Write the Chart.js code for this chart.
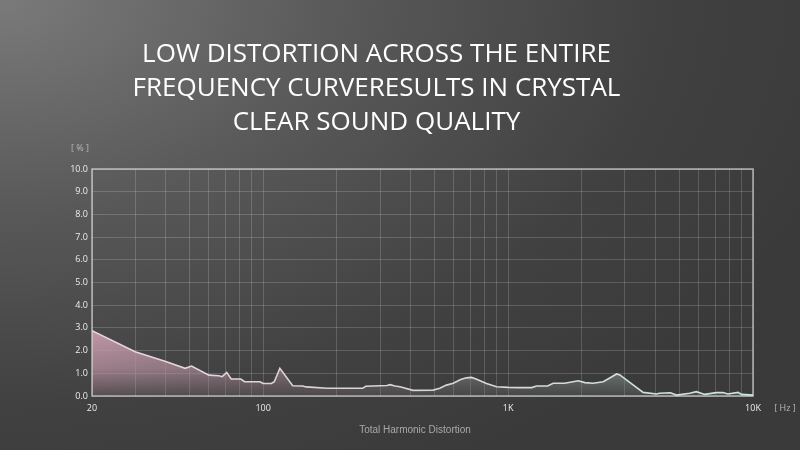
<!DOCTYPE html>
<html>
<head>
<meta charset="utf-8">
<script src="https://cdn.jsdelivr.net/npm/chart.js@4.4.0/dist/chart.umd.min.js"></script>
<style>
  html, body { margin: 0; padding: 0; }
  body {
    width: 800px; height: 450px; overflow: hidden;
    background: radial-gradient(ellipse 110% 120% at 0% 0%, #7a7a7a 0%, #585858 40%, #414141 75%, #3a3a3a 100%);
  }
  #wrap { position: relative; width: 800px; height: 450px; }
</style>
</head>
<body>
<div id="wrap"><canvas id="thdChart" width="800" height="450"></canvas></div>
<script>
// frequency points (Hz) and THD values (%)
var freqs = [20, 30, 40, 48, 51, 60, 66, 68, 71, 74, 81, 84, 97, 100, 108, 111, 117, 132, 145, 150,
  182, 255, 262, 320, 330, 345, 362, 409, 494, 526, 560, 597, 640, 676, 709, 740, 816, 897, 1000,
  1117, 1250, 1306, 1450, 1528, 1700, 1841, 1933, 2059, 2226, 2446, 2775, 2860, 3560, 4040, 4150,
  4600, 4870, 5520, 5870, 6350, 7090, 7540, 7900, 8690, 8970, 10000];
var thd = [2.88, 1.95, 1.52, 1.22, 1.32, 0.92, 0.89, 0.85, 1.04, 0.75, 0.75, 0.63, 0.63, 0.55, 0.55, 0.63, 1.22, 0.45, 0.44, 0.40,
  0.34, 0.34, 0.43, 0.46, 0.50, 0.44, 0.41, 0.25, 0.26, 0.34, 0.48, 0.56, 0.73, 0.80, 0.82, 0.75, 0.55, 0.41, 0.38,
  0.37, 0.37, 0.44, 0.44, 0.56, 0.56, 0.63, 0.67, 0.59, 0.56, 0.63, 0.97, 0.93, 0.16, 0.09, 0.12,
  0.14, 0.04, 0.12, 0.19, 0.07, 0.15, 0.15, 0.09, 0.16, 0.07, 0.04];

// grid lines on the log axis, and which of them get a label
var gridFreqs = [20, 30, 40, 50, 60, 70, 80, 90, 100, 200, 300, 400, 500, 600, 700, 800, 900,
  1000, 2000, 3000, 4000, 5000, 6000, 7000, 8000, 9000, 10000];
var freqLabels = { 20: '20', 100: '100', 1000: '1K', 10000: '10K' };
var titleLines = ['LOW DISTORTION ACROSS THE ENTIRE', 'FREQUENCY CURVERESULTS IN CRYSTAL', 'CLEAR SOUND QUALITY'];

var points = freqs.map(function(f, i) { return { x: f, y: thd[i] }; });

var fillCache = null;
function makeFill(chart) {
  var area = chart.chartArea;
  if (!area) return 'rgba(180,140,155,0.5)';
  var key = area.left + ',' + area.top + ',' + area.right + ',' + area.bottom;
  if (fillCache && fillCache.key === key) return fillCache.pattern;
  var off = document.createElement('canvas');
  off.width = chart.canvas.width;
  off.height = chart.canvas.height;
  var oc = off.getContext('2d');
  var sx = off.width / chart.width;
  oc.scale(sx, sx);
  // horizontal colour shift: pink on the left to grey-green on the right
  var h = oc.createLinearGradient(area.left, 0, area.right, 0);
  h.addColorStop(0, 'rgb(196,152,170)');
  h.addColorStop(0.3, 'rgb(152,128,140)');
  h.addColorStop(0.6, 'rgb(128,128,128)');
  h.addColorStop(1, 'rgb(145,170,160)');
  oc.fillStyle = h;
  oc.fillRect(area.left, area.top, area.right - area.left, area.bottom - area.top);
  // vertical fade towards the bottom
  var yScale = chart.scales.y;
  oc.globalCompositeOperation = 'destination-in';
  var v = oc.createLinearGradient(0, yScale.getPixelForValue(3), 0, area.bottom);
  v.addColorStop(0, 'rgba(0,0,0,1)');
  v.addColorStop(0.6, 'rgba(0,0,0,0.68)');
  v.addColorStop(1, 'rgba(0,0,0,0.15)');
  oc.fillStyle = v;
  oc.fillRect(0, 0, chart.width, chart.height);
  var pattern = chart.ctx.createPattern(off, 'no-repeat');
  pattern.setTransform(new DOMMatrix([1 / sx, 0, 0, 1 / sx, 0, 0]));
  fillCache = { key: key, pattern: pattern };
  return pattern;
}

function makeLine(chart) {
  var area = chart.chartArea;
  if (!area) return '#e0d0d6';
  var g = chart.ctx.createLinearGradient(area.left, 0, area.right, 0);
  g.addColorStop(0, '#ecd3dc');
  g.addColorStop(0.5, '#d8d4d6');
  g.addColorStop(1, '#cfe6dc');
  return g;
}

var extraText = {
  id: 'extraText',
  afterDraw: function(chart) {
    var ctx = chart.ctx, a = chart.chartArea;
    ctx.save();
    ctx.strokeStyle = 'rgba(225,225,225,0.7)';
    ctx.lineWidth = 1.5;
    ctx.strokeRect(a.left, a.top, a.right - a.left, a.bottom - a.top);
    ctx.fillStyle = '#b8b8b8';
    ctx.font = '9px "Open Sans"';
    ctx.textAlign = 'center';
    ctx.textBaseline = 'middle';
    ctx.fillText('[ % ]', 80, 148);
    ctx.fillText('[ Hz ]', 785, 408);
    ctx.fillStyle = '#a9a9a9';
    ctx.font = '10px "Liberation Sans"';
    ctx.fillText('Total Harmonic Distortion', 415, 430);
    ctx.restore();
  }
};

var ctx = document.getElementById('thdChart').getContext('2d');
new Chart(ctx, {
  type: 'line',
  data: {
    datasets: [{
      label: 'THD',
      data: points,
      borderColor: function(c) { return makeLine(c.chart); },
      backgroundColor: function(c) { return makeFill(c.chart); },
      borderWidth: 1.6,
      fill: 'origin',
      pointRadius: 0,
      tension: 0
    }]
  },
  options: {
    responsive: false,
    animation: false,
    layout: { padding: { left: 0, right: 47, top: 0, bottom: 0 } },
    plugins: {
      legend: { display: false },
      tooltip: { enabled: false },
      title: {
        display: true,
        text: titleLines,
        color: '#ffffff',
        font: { family: '"Open Sans"', size: 26, weight: 'normal', lineHeight: '34px' },
        padding: { top: 38, bottom: 29 }
      }
    },
    scales: {
      x: {
        type: 'logarithmic',
        min: 20,
        max: 10000,
        afterBuildTicks: function(scale) {
          scale.ticks = gridFreqs.map(function(f) { return { value: f }; });
        },
        afterFit: function(scale) { scale.height = 54; },
        ticks: {
          autoSkip: false,
          maxRotation: 0,
          padding: 7,
          color: '#ececec',
          font: { family: '"Open Sans"', size: 9 },
          callback: function(value) { return freqLabels[value] || ''; }
        },
        grid: { color: 'rgba(255,255,255,0.17)', lineWidth: 1, drawTicks: false },
        border: { display: false }
      },
      y: {
        min: 0,
        max: 10,
        afterFit: function(scale) { scale.width = 92; },
        ticks: {
          stepSize: 1,
          padding: 4,
          color: '#ececec',
          font: { family: '"Open Sans"', size: 9 },
          callback: function(value) { return value.toFixed(1); }
        },
        grid: { color: 'rgba(255,255,255,0.17)', lineWidth: 1, drawTicks: false },
        border: { display: false }
      }
    }
  },
  plugins: [extraText]
});
</script>
</body>
</html>
